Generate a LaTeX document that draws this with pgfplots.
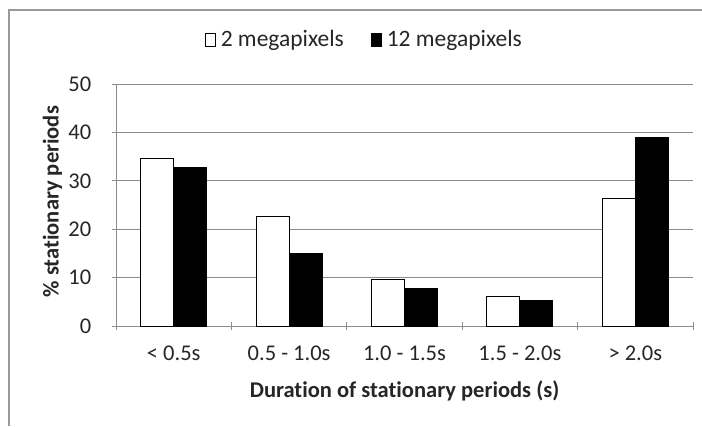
\documentclass[border=0pt]{standalone}
\usepackage{pgfplots}
\pgfplotsset{compat=1.18}
\usepackage{fontspec}
\setmainfont{Carlito}[Ligatures=NoCommon]

\definecolor{axisgray}{gray}{0.55}
\definecolor{framegray}{gray}{0.6}

\begin{document}
\fontsize{22.5bp}{26bp}\selectfont
\begin{tikzpicture}[x=1bp,y=1bp]
  \useasboundingbox (0,0) rectangle (702,426);
  % outer frame of the chart area (cut off at right and bottom)
  \draw[framegray, line width=1.5bp] (9,0) -- (9,416) -- (702,416);
  \begin{axis}[
    at={(116bp,100bp)},
    anchor=south west,
    scale only axis,
    width=577bp,
    height=242bp,
    ybar=0pt,
    bar width=0.286,
    xmin=-0.5, xmax=4.5,
    ymin=0, ymax=50,
    ytick={0,10,...,50},
    xtick={0,1,2,3,4},
    xticklabels={{< 0.5s},{0.5 - 1.0s},{1.0 - 1.5s},{1.5 - 2.0s},{> 2.0s}},
    minor xtick={-0.5,0.5,...,4.5},
    major x tick style={draw=none},
    minor tick length=8bp,
    major tick length=8bp,
    tick align=outside,
    axis lines=left,
    axis line style={-, axisgray, line width=1bp},
    tick style={axisgray, line width=1bp},
    ymajorgrids,
    grid style={axisgray, line width=1bp},
    /pgf/number format/assume math mode=true,
    ticklabel style={font=\fontsize{22.5bp}{26bp}\selectfont, text=black!85},
    yticklabel style={anchor=east, xshift=-13bp},
    xticklabel style={yshift=-8bp},
    xlabel={\bfseries Duration of stationary periods (s)},
    ylabel={\bfseries \% stationary periods},
    label style={font=\fontsize{22.5bp}{26bp}\selectfont, text=black!85},
    xlabel style={at={(axis description cs:0.5,-0.27)}, anchor=center},
    ylabel style={at={(axis description cs:-0.11,0.514)}, anchor=center},
    legend style={
      at={(0.154,1.182)},
      anchor=west,
      draw=none,
      inner sep=0pt,
      outer sep=0pt,
      nodes={inner sep=0pt},
      font=\fontsize{23.5bp}{27bp}\selectfont,
      text=black!85,
      legend columns=2,
      /tikz/every even column/.append style={column sep=27bp},
    },
    legend image code/.code={
      \draw[#1, line width=0.8bp] (0bp,-6.5bp) rectangle (10bp,6.5bp);
      \path (15bp,0bp);
    },
  ]
    \addplot[fill=white, draw=black, line width=1bp]
      coordinates {(0,34.6) (1,22.7) (2,9.7) (3,6.0) (4,26.4)};
    \addlegendentry{2 megapixels}
    \addplot[fill=black, draw=black, line width=1bp]
      coordinates {(0,32.7) (1,15.0) (2,7.8) (3,5.35) (4,39.0)};
    \addlegendentry{12 megapixels}
  \end{axis}
\end{tikzpicture}
\end{document}
